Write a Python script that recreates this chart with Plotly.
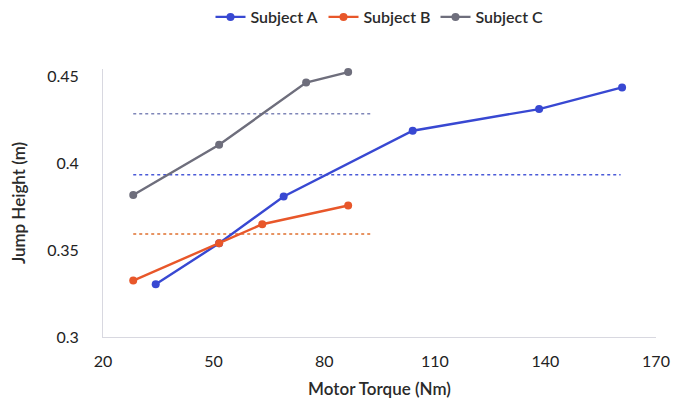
import plotly.graph_objects as go

# Data
a_x = [34.3, 51.5, 69.0, 104.0, 138.3, 160.8]
a_y = [0.3304, 0.3540, 0.3810, 0.4189, 0.4314, 0.4439]
b_x = [28.2, 51.5, 63.2, 86.5]
b_y = [0.3325, 0.3541, 0.3650, 0.3758]
c_x = [28.2, 51.5, 75.1, 86.5]
c_y = [0.3819, 0.4108, 0.4467, 0.4527]

# Horizontal dotted reference levels (level, x start, x end)
ref_levels = [0.3935, 0.3594, 0.4287]
ref_x0 = [28.2, 28.2, 28.2]
ref_x1 = [160.4, 92.6, 92.9]
ref_colors = ["#4a5ad8", "#e0702f", "#7f86b8"]

names = ["Subject A", "Subject B", "Subject C"]
colors = ["#3848d2", "#e8572a", "#6e6e7c"]
xs = [a_x, b_x, c_x]
ys = [a_y, b_y, c_y]

fig = go.Figure()
for lvl, x0, x1, col in zip(ref_levels, ref_x0, ref_x1, ref_colors):
    fig.add_trace(go.Scatter(x=[x0, x1], y=[lvl, lvl], mode="lines",
                             line=dict(color=col, width=1.5, dash="dot"),
                             showlegend=False, hoverinfo="skip", cliponaxis=False))
for n, c, x, y in zip(names, colors, xs, ys):
    fig.add_trace(go.Scatter(x=x, y=y, mode="lines+markers", name=n,
                             line=dict(color=c, width=2.4),
                             marker=dict(color=c, size=8), cliponaxis=False))

font_fam = "Lato, Open Sans, Liberation Sans, sans-serif"
# page body has an 8px margin, so the figure is sized to fit within the window
fig.update_layout(
    width=665, height=391,
    margin=dict(l=95, r=17, t=61, b=62, autoexpand=False),
    paper_bgcolor="white", plot_bgcolor="white",
    font=dict(family=font_fam, color="#2a2a2a", size=16),
    showlegend=True,
    legend=dict(orientation="h", x=0.5, xanchor="center", y=1.194, yanchor="middle",
                font=dict(size=16, color="#2a2a2a", weight=600), itemwidth=30,
                traceorder="normal"),
    xaxis=dict(range=[20, 170], tickvals=[20, 50, 80, 110, 140, 170],
               showgrid=False, zeroline=False, showline=True, automargin=False,
               linecolor="#d8d8e0", linewidth=1, ticks="", ticklabelstandoff=10,
               tickfont=dict(size=16, color="#222222"),
               title=dict(text="Motor Torque (Nm)", font=dict(size=17, weight=600), standoff=14)),
    yaxis=dict(range=[0.3, 0.4545], tickvals=[0.3, 0.35, 0.4, 0.45],
               ticktext=["0.3", "0.35", "0.4", "0.45"],
               showgrid=False, zeroline=False, showline=True, automargin=False,
               linecolor="#d8d8e0", linewidth=1, ticks="", ticklabelstandoff=20,
               tickfont=dict(size=16, color="#222222"),
               title=dict(text="Jump Height (m)", font=dict(size=17, weight=600), standoff=22)),
)
fig.write_html("out.html")
